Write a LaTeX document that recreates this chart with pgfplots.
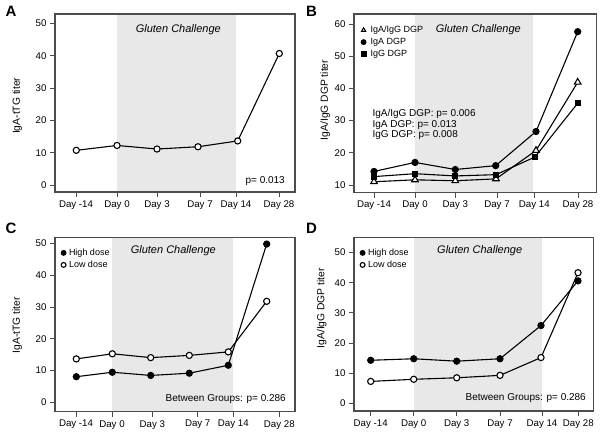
\documentclass[border=0pt]{standalone}
\usepackage{fontspec}
\setmainfont{Liberation Sans}
\usepackage{pgfplots}
\pgfplotsset{compat=1.18}

\definecolor{frame}{gray}{0.3}
\definecolor{shade}{gray}{0.91}

\pgfplotsset{
  panel/.style={
    scale only axis, axis on top,
    axis line style={frame, line width=1.1pt},
    tick align=outside, xtick pos=left, ytick pos=left,
    major tick length=5pt,
    tick style={frame, line width=0.9pt},
    ticklabel style={font=\fontsize{9.7}{11}\selectfont},
    /pgf/number format/assume math mode=true,
    xticklabels={Day -14,Day 0,Day 3,Day 7,Day 14,Day 28},
    ylabel style={font=\fontsize{10.3}{12}\selectfont, anchor=center},
    every axis plot/.append style={black, line width=1.1pt, mark options={solid, line width=1pt}},
    legend image code/.code={\draw[##1] plot coordinates {(0pt,0pt)};},
    legend image post style={mark size=2.4pt},
    legend style={draw=none, fill=none, at={(axis description cs:0,1)}, anchor=north west,
      font=\fontsize{9}{10}\selectfont, row sep=0pt,
      /tikz/every odd column/.append style={column sep=2.5pt}},
    legend cell align=left,
  },
  open/.style={mark=*, mark size=3.1pt, mark options={fill=white}},
  filled/.style={mark=*, mark size=3.1pt},
}

\begin{document}
\begin{tikzpicture}[x=1pt,y=1pt]
\useasboundingbox (0,0) rectangle (600,435);

% ---- A
\begin{axis}[panel, at={(55pt,243pt)}, anchor=south west,
  width=240pt, height=178pt,
  xmin=55, xmax=295, ymin=-2.07, ymax=52.9,
  xtick={76,117,157,200,236,279}, ytick={0,10,...,50},
  ylabel={IgA-tTG titer},
  ylabel style={at={(axis description cs:-0.157,0.484)}}]
\addplot[draw=none, fill=shade, forget plot] coordinates {(117,-5) (117,60) (236,60) (236,-5)} -- cycle;
\addplot[open] coordinates {(76.3,10.8) (117,12.3) (157,11.2) (198,11.9) (237.7,13.7) (279.3,40.7)};
\end{axis}

% ---- B
\begin{axis}[panel, at={(354pt,242.3pt)}, anchor=south west,
  width=242.7pt, height=178.7pt,
  xmin=354, xmax=596.7, ymin=7.6, ymax=63.1,
  xtick={374,415,455.3,497,534.3,578}, ytick={10,20,...,60},
  ylabel={IgA/IgG DGP titer},
  ylabel style={at={(axis description cs:-0.119,0.519)}},
  legend style={xshift=4pt, yshift=-8pt}]
\addplot[draw=none, fill=shade, forget plot] coordinates {(415,0) (415,70) (533.3,70) (533.3,0)} -- cycle;
\addplot[mark=triangle*, mark size=3.8pt, mark options={fill=white}] coordinates {(374,11.0) (415,11.6) (455.3,11.3) (496,11.9) (536,20.7) (577.7,41.9)};
\addlegendentry{IgA/IgG DGP}
\addplot[filled] coordinates {(374,14.2) (415,17.0) (455.3,14.8) (495.7,16.0) (536,26.6) (577.7,57.6)};
\addlegendentry{IgA DGP}
\addplot[mark=square*, mark size=2.5pt] coordinates {(374,12.6) (415,13.5) (455.3,12.8) (496,13.2) (535,18.7) (577.7,35.4)};
\addlegendentry{IgG DGP}
\end{axis}

% ---- C
\begin{axis}[panel, at={(55pt,23.3pt)}, anchor=south west,
  width=240pt, height=174pt,
  xmin=55, xmax=295, ymin=-2.9, ymax=51.8,
  xtick={76,112,152.3,197.7,233.3,279.3}, ytick={0,10,...,50},
  ylabel={IgA-tTG titer},
  ylabel style={at={(axis description cs:-0.157,0.498)}},
  legend style={xshift=3pt, yshift=-7pt,
    /tikz/every odd column/.append style={column sep=1pt}}]
\addplot[draw=none, fill=shade, forget plot] coordinates {(112,-5) (112,60) (233.3,60) (233.3,-5)} -- cycle;
\addplot[filled] coordinates {(76.3,8.1) (112.3,9.5) (150.7,8.5) (189.3,9.2) (228.3,11.7) (266.7,49.8)};
\addlegendentry{High dose}
\addplot[open] coordinates {(76.3,13.7) (112.3,15.3) (150.7,14.1) (189.3,14.8) (228.3,15.9) (266.7,31.8)};
\addlegendentry{Low dose}
\end{axis}

% ---- D
\begin{axis}[panel, at={(354pt,24pt)}, anchor=south west,
  width=239.3pt, height=173.3pt,
  xmin=354, xmax=593.3, ymin=-2.5, ymax=54.9,
  xtick={370.7,413.7,456.7,500,542,578.3}, ytick={0,10,...,50},
  ylabel={IgA/IgG DGP titer},
  ylabel style={at={(axis description cs:-0.135,0.593)}},
  legend style={xshift=3pt, yshift=-7pt,
    /tikz/every odd column/.append style={column sep=1pt}}, reverse legend]
\addplot[draw=none, fill=shade, forget plot] coordinates {(413.7,-5) (413.7,60) (542,60) (542,-5)} -- cycle;
\addplot[open] coordinates {(370.7,7.3) (413.7,8.0) (456.7,8.5) (500,9.3) (541,15.2) (578,43.3)};
\addlegendentry{Low dose}
\addplot[filled] coordinates {(370.7,14.3) (413.7,14.8) (456.7,14.0) (500,14.8) (541,25.8) (578,40.6)};
\addlegendentry{High dose}
\end{axis}

% ---- annotations
\tikzset{lett/.style={font=\bfseries\fontsize{15}{15}\selectfont},
  gc/.style={font=\itshape\fontsize{11}{13}\selectfont},
  pv/.style={font=\fontsize{10}{12}\selectfont}}
\node[lett] at (11,423.3) {A};
\node[lett] at (311.5,423.3) {B};
\node[lett] at (11,206.7) {C};
\node[lett] at (311.5,206.3) {D};
\node[gc] at (178.3,405) {Gluten Challenge};
\node[gc] at (478.3,405.7) {Gluten Challenge};
\node[gc] at (173.3,184.3) {Gluten Challenge};
\node[gc] at (479.7,184.3) {Gluten Challenge};
\node[pv, anchor=base east, inner sep=0pt] at (285,251.3) {p= 0.013};
\node[pv, anchor=base east, inner sep=0pt] at (286,33.3) {Between Groups: p= 0.286};
\node[pv, anchor=base east, inner sep=0pt] at (586,34) {Between Groups: p= 0.286};
\node[pv, anchor=base west, inner sep=0pt] at (372.3,318) {IgA/IgG DGP: p= 0.006};
\node[pv, anchor=base west, inner sep=0pt] at (372.3,307.3) {IgA DGP: p= 0.013};
\node[pv, anchor=base west, inner sep=0pt] at (372.3,297) {IgG DGP: p= 0.008};
\end{tikzpicture}
\end{document}
